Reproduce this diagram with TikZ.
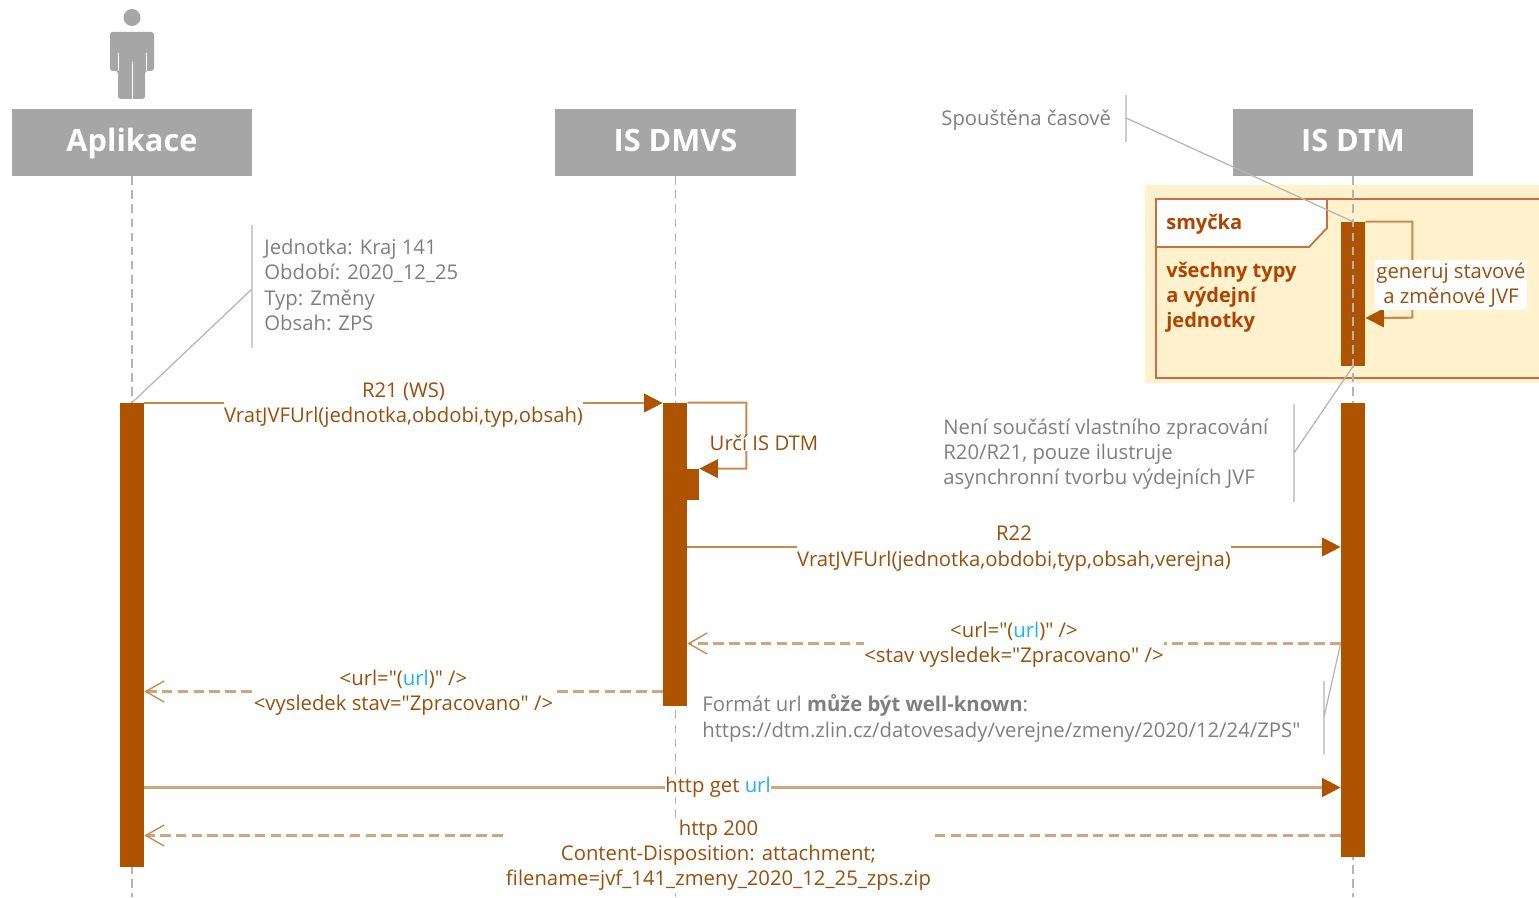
\documentclass[tikz,border=0pt]{standalone}
\usepackage{fontspec}
\usepackage{xcolor}
\setmainfont{Open Sans}
\newfontfamily\qtfont{Open Sans}
\usetikzlibrary{arrows.meta}
\definecolor{headgray}{HTML}{A6A6A6}
\definecolor{linegray}{HTML}{B4B4B4}
\definecolor{notegray}{HTML}{7F7F7F}
\definecolor{barbrown}{HTML}{AE5300}
\definecolor{msgtan}{HTML}{C98A52}
\definecolor{msgpale}{HTML}{D3A57C}
\definecolor{msgtext}{HTML}{9A4F0A}
\definecolor{urlblue}{HTML}{1FB4EE}
\definecolor{loopbg}{HTML}{FFF2CC}
\definecolor{loopline}{HTML}{CC6C40}
\definecolor{looptext}{HTML}{B04300}
\newcommand{\urltext}{{\color{urlblue}url}}
\newcommand{\qt}{{\qtfont"}}
\tikzset{
  header/.style={fill=headgray,text=white,font=\fontsize{17.5}{20}\selectfont\bfseries,
    minimum width=4.82cm,minimum height=1.34cm,inner sep=0,text height=12pt,text depth=1.2pt},
  lifeline/.style={linegray,line width=.8pt,dash pattern=on 5pt off 3pt},
  bar/.style={fill=barbrown,inner sep=0,minimum width=.48cm},
  msgline/.style={msgtan,line width=1.2pt},
  msgcall/.style={msgline,-{Triangle[length=10.5pt,width=10.5pt,fill=barbrown,color=barbrown]}},
  msgback/.style={msgpale,line width=1.3pt,dash pattern=on 6pt off 3pt,-{Straight Barb[length=10.5pt,width=12pt,color=msgtan,line width=.8pt]}},
  msglabel/.style={fill=white,text=msgtext,align=center,inner sep=0,
    font=\fontsize{11.55}{14.35}\selectfont},
  note/.style={text=notegray,align=left,anchor=west,inner sep=0,
    font=\fontsize{11.55}{14.35}\selectfont},
  noteline/.style={draw=linegray,line width=.7pt},
  looplabel/.style={text=looptext,align=left,anchor=west,inner sep=0,
    font=\fontsize{11.4}{14.35}\selectfont\bfseries},
}
\begin{document}
\begin{tikzpicture}[x=.02cm,y=-.02cm]
  \useasboundingbox (0,0) rectangle (1539,898);

  \coordinate (bottom) at (0,897);
  \node[header] (aplikace) at (132,142.5) {Aplikace};
  \node[header] (dmvs) at (675.5,142.5) {IS DMVS};
  \node[header] (dtm) at (1353,142.5) {IS DTM};

  \fill[headgray] (132,17.5) circle (8.5);
  \fill[headgray,rounded corners=1.5] (110,71) -- (110,32) -- (154,32) -- (154,71) -- (145,71) -- (145,99) -- (118,99) -- (118,71) -- cycle;
  \draw[white,line width=.4pt] (132,62) -- (132,99) (118,53) -- (118,71) (146,53) -- (146,71);

  \fill[loopbg] (1145,185) rectangle (1539,383);
  \draw[loopline,line width=1pt] (1539,199) -- (1156,199) -- (1156,378) -- (1539,378);
  \draw[loopline,line width=1pt,fill=white] (1156,199) -- (1327,199) -- (1327,228) -- (1309,247) -- (1156,247) -- cycle;
  \node[looplabel] (smycka) at (1166,224) {smyčka};
  \node[looplabel] (typy) at (1166,297.5) {všechny typy\\a výdejní\\jednotky};

  \node[bar,minimum height=2.88cm] (barLoop) at (1353,294) {};

  \draw[lifeline] (aplikace.south) -- (aplikace |- bottom);
  \draw[lifeline] (dmvs.south) -- (dmvs |- bottom);
  \draw[lifeline] (dtm.south) -- (dtm |- bottom);

  \node[bar,minimum height=9.28cm] (barApl) at (132,635) {};
  \node[bar,minimum height=6.06cm] (barDmvs) at (675,554.5) {};
  \node[bar,minimum height=.62cm] (barSelf) at (687,484.5) {};
  \node[bar,minimum height=9.08cm] (barDtm) at (1353,630) {};

  \coordinate (msgA) at (0,403);
  \coordinate (msgB) at (0,547);
  \coordinate (msgC) at (0,643.5);
  \coordinate (msgD) at (0,691.5);
  \coordinate (msgE) at (0,787.5);
  \coordinate (msgF) at (0,835.5);

  \draw[msgcall] (barApl.east |- msgA) -- (barDmvs.west |- msgA);
  \node[msglabel] (lblA) at (403.5,405) {R21 (WS)\\VratJVFUrl(jednotka,obdobi,typ,obsah)};

  \draw[msgcall] (barDmvs.north east) -- ++(59,0) -- ++(0,66) -- (barSelf.north east);
  \node[msglabel] (lblSelf) at (764,443) {Určí IS DTM};

  \draw[msgcall] (barDmvs.east |- msgB) -- (barDtm.west |- msgB);
  \node[msglabel] (lblB) at (1014,548.5) {R22\\VratJVFUrl(jednotka,obdobi,typ,obsah,verejna)};

  \draw[msgback] (barDtm.west |- msgC) -- (barDmvs.east |- msgC);
  \node[msglabel] (lblC) at (1014,644.5) {<url=\qt(\urltext)\qt{} />\\<stav vysledek=\qt Zpracovano\qt{} />};

  \draw[msgback] (barDmvs.west |- msgD) -- (barApl.east |- msgD);
  \node[msglabel] (lblD) at (403.5,692.5) {<url=\qt(\urltext)\qt{} />\\<vysledek stav=\qt Zpracovano\qt{} />};

  \draw[msgcall,msgpale,line width=1.7pt] (barApl.east |- msgE) -- (barDtm.west |- msgE);
  \node[msglabel] (lblE) at (718,787) {http get \urltext};

  \draw[msgback] (barDtm.west |- msgF) -- (barApl.east |- msgF);
  \node[msglabel] (lblF) at (718.5,855) {http 200\\Content-Disposition: attachment;\\filename=jvf\_141\_zmeny\_2020\_12\_25\_zps.zip};

  \draw[msgcall] (barLoop.north east) -- ++(47,0) -- ++(0,96) -- (barLoop.east |- 0,318);
  \node[msglabel,minimum width=3.04cm,minimum height=1cm] (lblLoop) at (1451,285) {generuj stavové\\a změnové JVF};

  \node[note] (noteParam) at (264,285) {Jednotka: Kraj 141\\Období: 2020\_12\_25\\Typ: Změny\\Obsah: ZPS};
  \node[note] (noteTime) at (941,120) {Spouštěna časově};
  \node[note] (noteAsync) at (943,454) {Není součástí vlastního zpracování\\R20/R21, pouze ilustruje\\asynchronní tvorbu výdejních JVF};
  \node[note] (noteUrl) at (702,718.5) {Formát url \textbf{může být well-known}:\\https://dtm.zlin.cz/datovesady/verejne/zmeny/2020/12/24/ZPS\qt};

  \draw[noteline] (252,225) -- (252,348) (252,289) -- (barApl.north);
  \draw[noteline] (1126,95) -- (1126,142) (1126,118) -- (barLoop.north);
  \draw[noteline] (1294,404) -- (1294,502) (1294,453) -- (barLoop.south);
  \draw[noteline] (1324,681) -- (1324,754) (1324,717) -- (barDtm.west |- msgC);
\end{tikzpicture}
\end{document}
